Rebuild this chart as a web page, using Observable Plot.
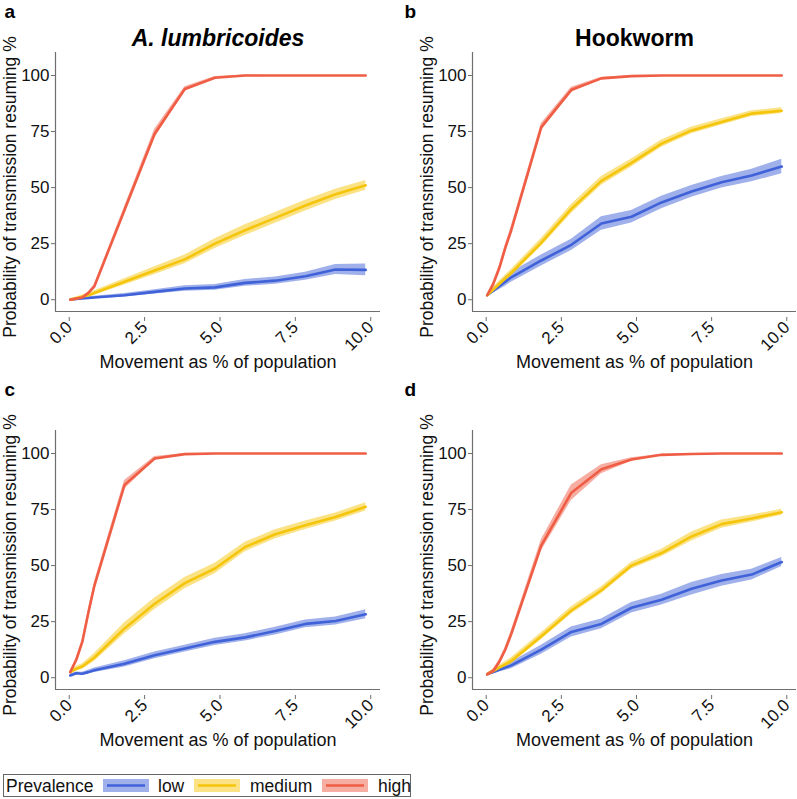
<!DOCTYPE html>
<html>
<head>
<meta charset="utf-8">
<script src="https://cdn.jsdelivr.net/npm/d3@7"></script>
<script src="https://cdn.jsdelivr.net/npm/@observablehq/plot@0.6"></script>
<style>
  body { margin: 0; background: white; }
  #root { position: relative; width: 797px; height: 799px; font-family: "Liberation Sans", Arial, sans-serif; overflow: hidden; }
  .panel { position: absolute; }
  #legend { position: absolute; left: 3px; top: 774px; width: 408px; height: 23px; border: 1px solid #666; box-sizing: border-box; }
  #legend span { position: absolute; top: 0px; font-size: 17.5px; line-height: 22px; color: #111; }
  #legend svg { position: absolute; top: 4px; }
</style>
</head>
<body>
<div id="root"></div>
<script>
// ---- data ----
const movement = [0.2, 0.4, 0.6, 0.8, 1, 2, 3, 4, 5, 6, 7, 8, 9, 10];
const levels = ["low", "medium", "high"];
const lineColors = ["#4062d8", "#f5c50c", "#ef5d45"];
const xTicks = [0, 2.5, 5, 7.5, 10];
const yTicks = [0, 25, 50, 75, 100];
const titles = ["A. lumbricoides", "Hookworm"];
const letters = ["a", "b", "c", "d"];

// panel a
const a_low = [0, 0.3, 0.6, 0.8, 1, 2, 3.5, 5, 5.5, 7.5, 8.5, 10.5, 13.5, 13.3];
const a_medium = [0, 0.6, 1.3, 2, 3, 8, 13, 18, 25, 31, 36.5, 42, 47, 51];
const a_high = [0, 0.5, 1, 3, 6, 40, 74, 94, 99, 100, 100, 100, 100, 100];
const a_low_ci = [0.5, 0.5, 0.5, 0.5, 0.6, 0.8, 1, 1.2, 1.3, 1.5, 1.6, 1.8, 2.2, 2.6];
const a_medium_ci = [0.5, 0.6, 0.8, 0.9, 1, 1.4, 1.7, 2, 2.2, 2.4, 2.4, 2.4, 2.3, 2.2];
const a_high_ci = [0.3, 0.4, 0.5, 0.6, 0.8, 1.5, 2, 1, 0.5, 0.2, 0, 0, 0, 0];

// panel b
const b_low = [2, 4, 6, 8, 10, 17.5, 24.5, 34, 37, 43.4, 48.3, 52.4, 55.4, 59.4];
const b_medium = [2, 4.5, 7, 9.5, 12, 25.5, 40.5, 53, 61, 69.6, 75.5, 79.3, 83, 84.3];
const b_high = [2, 7, 14, 23, 31, 77, 93.6, 98.7, 99.7, 100, 100, 100, 100, 100];
const b_low_ci = [0.5, 1, 1.5, 2, 2.2, 2.5, 2.5, 3, 2.8, 2.8, 2.6, 2.6, 2.8, 3.2];
const b_medium_ci = [0.5, 1, 1.2, 1.4, 1.5, 1.8, 2, 2, 1.8, 1.6, 1.5, 1.4, 1.3, 1.3];
const b_high_ci = [0.5, 1, 1.3, 1.5, 1.6, 1.6, 1.2, 0.5, 0.2, 0, 0, 0, 0, 0];

// panel c
const c_low = [1, 2, 1.8, 2.5, 3.3, 6.2, 10, 13, 16, 18, 20.8, 24, 25.3, 28.3];
const c_medium = [2.5, 4, 5, 7, 9, 22, 33, 42.2, 48.7, 58.3, 64, 68, 71.7, 76.2];
const c_high = [2.5, 8, 16, 29, 41, 86, 97.8, 99.7, 100, 100, 100, 100, 100, 100];
const c_low_ci = [0.5, 0.6, 0.6, 0.8, 1, 1.4, 1.5, 1.5, 1.6, 1.6, 1.7, 1.7, 1.8, 2];
const c_medium_ci = [0.8, 1, 1.2, 1.5, 1.8, 2.5, 2.6, 2.5, 2.3, 2.1, 2, 1.9, 1.8, 1.8];
const c_high_ci = [0.5, 1, 1.2, 1.5, 1.6, 2, 0.8, 0.3, 0, 0, 0, 0, 0, 0];

// panel d
const d_low = [1.5, 2.5, 3.5, 4.5, 5.5, 12.5, 20.4, 24, 31.2, 34.8, 39.7, 43.4, 46, 51.6];
const d_medium = [1.5, 3, 4.5, 6, 7.5, 18.5, 30, 39, 50, 55.6, 63, 68.5, 71, 73.8];
const d_high = [1.5, 3, 7, 12.5, 19.5, 59, 82.5, 93, 97.3, 99.4, 99.8, 100, 100, 100];
const d_low_ci = [0.5, 0.8, 1, 1.3, 1.5, 2, 2.2, 2.2, 2.3, 2.4, 2.8, 2.6, 2.4, 2];
const d_medium_ci = [0.5, 0.8, 1, 1.2, 1.4, 1.6, 1.6, 1.6, 1.5, 1.7, 2, 1.8, 1.6, 1.3];
const d_high_ci = [0.5, 0.8, 1, 1.2, 1.5, 2.5, 3.5, 2, 0.8, 0.3, 0, 0, 0, 0];

// ---- build ----
function rowsFor(series, cis) {
  const rows = [];
  levels.forEach((lev, i) => {
    movement.forEach((m, j) => {
      rows.push({movement: m, level: lev, mean: series[i][j], lo: series[i][j] - cis[i][j], hi: series[i][j] + cis[i][j]});
    });
  });
  return rows;
}

const font = "'Liberation Sans', Arial, sans-serif";
const xDomain = [-0.29, 10.49];
const yDomain = [-5.25, 110.25];

function panel(rows, {title, italic, letter, width, marginLeft, marginRight, left, top}) {
  const marks = [
    Plot.areaY(rows, {x: "movement", y1: "lo", y2: "hi", fill: "level", z: "level", fillOpacity: 0.5}),
    Plot.lineY(rows, {x: "movement", y: "mean", stroke: "level", z: "level", strokeWidth: 2.6}),
    Plot.ruleX([xDomain[0]], {stroke: "#6e6e6e", strokeWidth: 1.2}),
    Plot.ruleY([yDomain[0]], {stroke: "#6e6e6e", strokeWidth: 1.2}),
    Plot.axisX({ticks: xTicks, tickFormat: d3.format(".1f"), tickRotate: -45, tickSize: 4, tickPadding: 3, fontSize: 17, label: null, stroke: "#6e6e6e", fill: "#111", dx: 5, dy: 6}),
    Plot.axisY({ticks: yTicks, tickSize: 4, tickPadding: 2, fontSize: 17, label: null, stroke: "#6e6e6e", fill: "#111"}),
    Plot.text(["Probability of transmission resuming %"], {frameAnchor: "left", rotate: -90, dx: -45, dy: 5, fontSize: 17.5, fill: "#111", lineAnchor: "middle", textAnchor: "middle"}),
    Plot.text(["Movement as % of population"], {frameAnchor: "bottom", dy: 51, fontSize: 18, fill: "#111", lineAnchor: "middle"}),
    Plot.text([letter], {frameAnchor: "top-left", dx: -marginLeft + 4, dy: -34.5, fontSize: 19, fontWeight: "bold", fill: "#000", textAnchor: "start", lineAnchor: "bottom"})
  ];
  if (title) {
    marks.push(Plot.text([title], {frameAnchor: "top", dy: -13.5, fontSize: 23, fontWeight: "bold", fontStyle: italic ? "italic" : "normal", fill: "#000", lineAnchor: "middle"}));
  }
  const p = Plot.plot({
    width, height: 378,
    marginLeft, marginRight, marginTop: 52, marginBottom: 67,
    style: {fontFamily: font, background: "transparent", overflow: "visible"},
    x: {domain: xDomain},
    y: {domain: yDomain},
    color: {domain: levels, range: lineColors},
    marks
  });
  p.classList.add("panel");
  p.style.left = left + "px";
  p.style.top = top + "px";
  document.getElementById("root").appendChild(p);
}

panel(rowsFor([a_low, a_medium, a_high], [a_low_ci, a_medium_ci, a_high_ci]),
  {title: titles[0], italic: true, letter: letters[0], width: 400, marginLeft: 55, marginRight: 20, left: 0, top: 0});
panel(rowsFor([b_low, b_medium, b_high], [b_low_ci, b_medium_ci, b_high_ci]),
  {title: titles[1], italic: false, letter: letters[1], width: 397, marginLeft: 72, marginRight: 1, left: 400, top: 0});
panel(rowsFor([c_low, c_medium, c_high], [c_low_ci, c_medium_ci, c_high_ci]),
  {title: null, letter: letters[2], width: 400, marginLeft: 55, marginRight: 20, left: 0, top: 378});
panel(rowsFor([d_low, d_medium, d_high], [d_low_ci, d_medium_ci, d_high_ci]),
  {title: null, letter: letters[3], width: 397, marginLeft: 72, marginRight: 1, left: 400, top: 378});

// ---- legend ----
const legend = document.createElement("div");
legend.id = "legend";
document.getElementById("root").appendChild(legend);
const lg = d3.select(legend);
lg.append("span").style("left", "2px").text("Prevalence");
const swatchX = [99, 190, 318];
const labelX = [154, 246, 374];
levels.forEach((lev, i) => {
  const s = lg.append("svg").attr("width", 46).attr("height", 13).style("left", swatchX[i] + "px");
  s.append("rect").attr("width", 46).attr("height", 13).attr("fill", lineColors[i]).attr("fill-opacity", 0.5);
  s.append("line").attr("x1", 4).attr("x2", 42).attr("y1", 6.5).attr("y2", 6.5).attr("stroke", lineColors[i]).attr("stroke-width", 2.6);
  lg.append("span").style("left", labelX[i] + "px").text(lev);
});
</script>
</body>
</html>
